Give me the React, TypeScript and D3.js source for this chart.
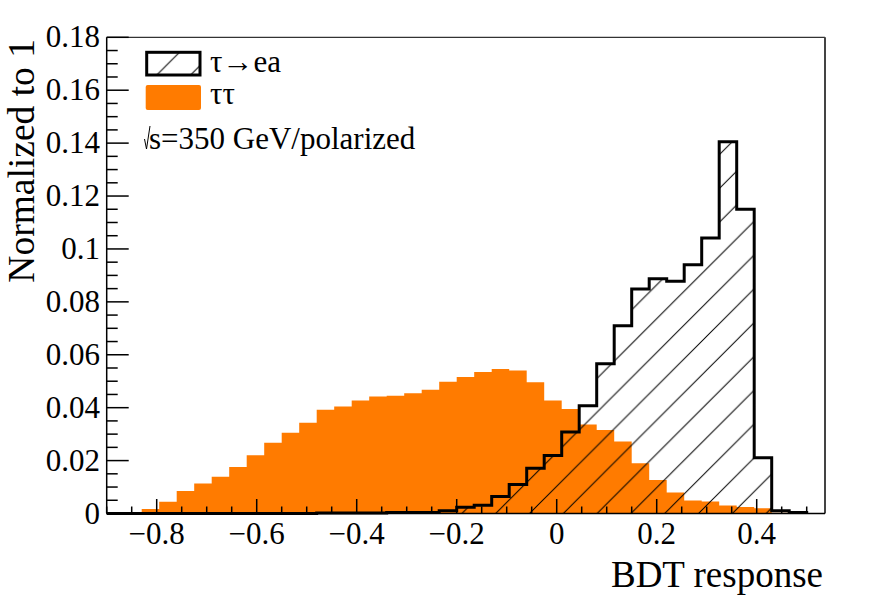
import React from "react";
import * as d3 from "d3";

// Histogram binning (40 bins from -0.9 to 0.5)
const binLow = -0.9;
const binWidth = 0.035;

// ττ background (orange, filled)
const tautau = [
  0.0002, 0.0005, 0.0017, 0.0044, 0.0085, 0.0113, 0.0139, 0.0176, 0.022, 0.0267,
  0.0305, 0.0343, 0.0392, 0.0404, 0.0427, 0.0442, 0.0445, 0.0455, 0.0468, 0.0498,
  0.0516, 0.0535, 0.0546, 0.0541, 0.0496, 0.0427, 0.0395, 0.0336, 0.0316, 0.0272,
  0.019, 0.0127, 0.0079, 0.0049, 0.0045, 0.003, 0.0025, 0.002, 0.0003, 0.0,
];

// τ→ea signal (black outline, hatched)
const signal = [
  0, 0, 0, 0, 0, 0, 0, 0, 0, 0,
  0, 0, 0.0002, 0.0002, 0.0002, 0.0002, 0.0004, 0.0004, 0.0004, 0.001,
  0.0024, 0.0031, 0.0064, 0.011, 0.0171, 0.0219, 0.0308, 0.0407, 0.0566, 0.071,
  0.0849, 0.0887, 0.0878, 0.094, 0.1041, 0.1405, 0.115, 0.0211, 0.001, 0.0004,
];

const xTickValues = [-0.8, -0.6, -0.4, -0.2, 0, 0.2, 0.4];
const yTickValues = [0, 0.02, 0.04, 0.06, 0.08, 0.1, 0.12, 0.14, 0.16, 0.18];
const legendLabels = ["τ→ea", "ττ"];
const energyLabel = "s=350 GeV/polarized";
const xTitle = "BDT response";
const yTitle = "Normalized to 1";

const ORANGE = "#ff7b00";
const FONT = "Liberation Serif, DejaVu Serif, serif";

export default function App() {
  const W = 888;
  const H = 603;
  const x = d3.scaleLinear().domain([-0.9, 0.5366]).range([106.7, 825]);
  const y = d3.scaleLinear().domain([0, 0.18]).range([513.5, 37.3]);
  const edge = (i: number) => x(binLow + i * binWidth);

  const stepPath = (vals: number[]) => {
    let p = `M${edge(0)},${y(0)}`;
    vals.forEach((v, i) => {
      p += `V${y(v)}H${edge(i + 1)}`;
    });
    p += `V${y(0)}`;
    return p;
  };

  const xMinor = d3.range(-18, 11).map((k) => ({ v: k * 0.05, major: k % 4 === 0 }));
  const yMinor = d3.range(0, 37).map((k) => ({ v: k * 0.005, major: k % 4 === 0 }));

  const fmtY = (d: number) => (d === 0 ? "0" : String(+d.toFixed(2)));
  const fmtX = (d: number) => (Math.abs(d) < 1e-9 ? "0" : String(+d.toFixed(1)).replace("-", "−"));

  const P = 33.8;
  const ts = { fontFamily: FONT };

  return (
    <svg
      width={W}
      height={H}
      style={{ position: "absolute", left: 0, top: 0, background: "#fff", fontFamily: FONT }}
    >
      <defs>
        <pattern id="hatch" patternUnits="userSpaceOnUse" x={29} y={0} width={P} height={P}>
          <path
            d={`M0,${P} L${P},0 M-2,2 L2,-2 M${P - 2},${P + 2} L${P + 2},${P - 2}`}
            stroke="#000"
            strokeWidth={1}
          />
        </pattern>
      </defs>
      <rect x={0} y={0} width={W} height={H} fill="#fff" />

      {/* background fill */}
      <path d={stepPath(tautau) + "Z"} fill={ORANGE} stroke="none" />

      {/* signal hatch + outline */}
      <path d={stepPath(signal) + "Z"} fill="url(#hatch)" stroke="none" />
      <path d={stepPath(signal)} fill="none" stroke="#000" strokeWidth={3} strokeLinejoin="miter" />

      {/* frame */}
      <line x1={106.7} y1={37.3} x2={825} y2={37.3} stroke="#000" strokeWidth={1} />
      <line x1={825} y1={37.3} x2={825} y2={513.5} stroke="#444" strokeWidth={2} />
      <line x1={106.7} y1={37.3} x2={106.7} y2={513.5} stroke="#000" strokeWidth={1.5} />
      <line x1={106.7} y1={513.5} x2={825} y2={513.5} stroke="#000" strokeWidth={1.5} />

      {/* x ticks */}
      {xMinor.map((t, i) => (
        <line
          key={"xt" + i}
          x1={x(t.v)}
          x2={x(t.v)}
          y1={y(0)}
          y2={y(0) - (t.major ? 14.5 : 7)}
          stroke="#000"
          strokeWidth={1.5}
        />
      ))}
      {xTickValues.map((v) => (
        <text key={"xl" + v} style={ts} x={x(v)} y={544} fontSize={31} textAnchor="middle" fill="#000">
          {fmtX(v)}
        </text>
      ))}

      {/* y ticks */}
      {yMinor.map((t, i) => (
        <line
          key={"yt" + i}
          x1={x(-0.9)}
          x2={x(-0.9) + (t.major ? 22 : 11)}
          y1={y(t.v)}
          y2={y(t.v)}
          stroke="#000"
          strokeWidth={1.5}
        />
      ))}
      {yTickValues.map((v) => (
        <text key={"yl" + v} style={ts} x={100} y={y(v) + 10} fontSize={31} textAnchor="end" fill="#000">
          {fmtY(v)}
        </text>
      ))}

      {/* titles */}
      <text style={ts} x={823} y={587} fontSize={37} textAnchor="end" fill="#000">
        {xTitle}
      </text>
      <text
        style={ts}
        transform="translate(33.5,39) rotate(-90)"
        fontSize={37.5}
        textAnchor="end"
        fill="#000"
      >
        {yTitle}
      </text>

      {/* legend */}
      <rect x={146.7} y={52.3} width={53.3} height={22.7} fill="url(#hatch)" stroke="#000" strokeWidth={3} />
      <text style={ts} x={210} y={72} fontSize={31} fill="#000">
        {legendLabels[0]}
      </text>
      <rect x={145.7} y={85} width={55.3} height={25} fill={ORANGE} rx={2} />
      <text style={ts} x={210} y={103.5} fontSize={31} fill="#000">
        {legendLabels[1]}
      </text>
      <path d="M144.5,139 L146.5,149 L150,126" fill="none" stroke="#000" strokeWidth={1} />
      <text style={ts} x={149} y={149} fontSize={31} fill="#000">
        {energyLabel}
      </text>
    </svg>
  );
}
